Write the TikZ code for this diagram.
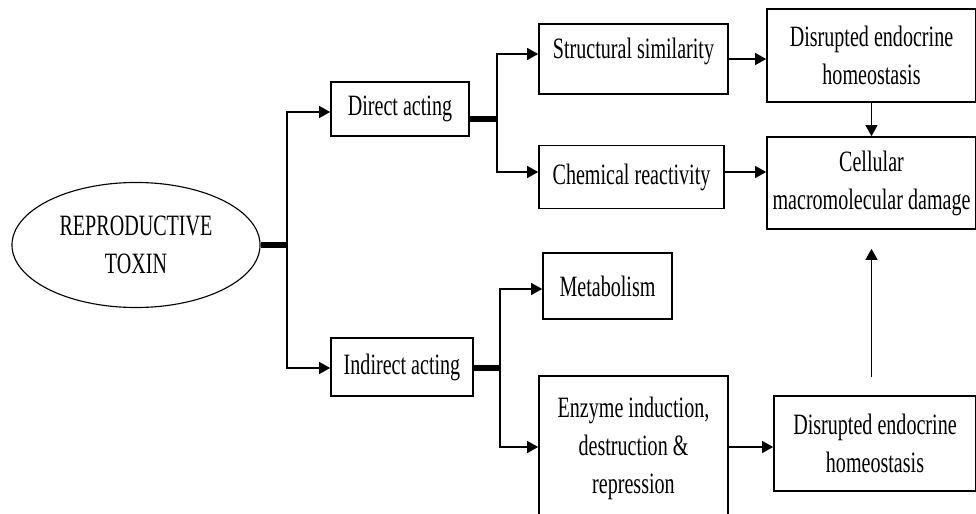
\documentclass[tikz,border=0pt]{standalone}
\usepackage{fontspec}
\setmainfont{Liberation Serif}[FakeStretch=0.68]
\usetikzlibrary{shapes.geometric,arrows.meta}

\begin{document}
\begin{tikzpicture}[x=0.025cm, y=-0.025cm,
        font=\fontsize{21}{27}\selectfont,
        box/.style={draw, line width=1.1pt, inner sep=0pt, align=center},
        arr/.style={line width=1.2pt, -{Triangle[length=0.28cm,width=0.3cm]}},
        bar/.style={line width=3.8pt}]

        \useasboundingbox (0,0) rectangle (976,514);

        \node[draw, ellipse, line width=0.8pt, align=center,
              minimum width=6.2cm, minimum height=3.125cm] (toxin) at (136,245) {REPRODUCTIVE\\TOXIN};

        \node[box, minimum width=3.45cm, minimum height=1.35cm] (direct) at (400,109) {Direct acting};
        \node[box, minimum width=3.55cm, minimum height=1.45cm] (indirect) at (402,367) {Indirect acting};

        \node[box, minimum width=4.725cm, minimum height=1.75cm] (struct) at (633.5,59) {};
        \node (structlbl) at (633.5,51) {Structural similarity};
        \node[box, minimum width=4.625cm, minimum height=1.575cm] (chem) at (631.5,177) {Chemical reactivity};
        \node[box, minimum width=3.225cm, minimum height=1.65cm] (metab) at (607.5,286) {Metabolism};
        \node[box, minimum width=4.725cm, minimum height=3.6cm] (enzyme) at (633.5,448) {Enzyme induction,\\destruction \&\\repression};

        \node[box, minimum width=5.225cm, minimum height=2.325cm] (topdis) at (871.5,55.5) {Disrupted endocrine\\homeostasis};
        \node[box, minimum width=5.225cm, minimum height=2.3cm] (cell) at (871.5,183) {Cellular\\macromolecular damage};
        \node[box, minimum width=5.05cm, minimum height=2.375cm] (botdis) at (875,443.5) {Disrupted endocrine\\homeostasis};

        % first fork
        \coordinate (ja) at (287,245);
        \coordinate (jdir) at (287,112);
        \coordinate (jind) at (287,368);
        \draw[bar] (toxin.east) -- (ja);
        \draw[arr] (ja) -- (jdir) -- (jdir -| direct.west);
        \draw[arr] (ja) -- (jind) -- (jind -| indirect.west);

        % direct acting fork
        \coordinate (jb) at (497,119);
        \coordinate (jstr) at (497,54);
        \coordinate (jchem) at (497,172);
        \draw[bar] (direct.east |- jb) -- (jb);
        \draw[arr] (jb) -- (jstr) -- (jstr -| struct.west);
        \draw[arr] (jb) -- (jchem) -- (jchem -| chem.west);

        % indirect acting fork
        \coordinate (jc) at (500,368);
        \coordinate (jmet) at (500,289);
        \coordinate (jenz) at (500,447);
        \draw[bar] (indirect.east |- jc) -- (jc);
        \draw[arr] (jc) -- (jmet) -- (jmet -| metab.west);
        \draw[arr] (jc) -- (jenz) -- (jenz -| enzyme.west);

        \draw[arr] (struct.east) -- (struct.east -| topdis.west);
        \draw[arr] (chem.east |- jchem) -- (jchem -| cell.west);
        \draw[arr] (topdis) -- (cell);
        \draw[arr] (enzyme.east |- jenz) -- (jenz -| botdis.west);
        \draw[arr, shorten <=0.45cm, shorten >=0.475cm] (botdis.north -| cell.south) -- (cell.south);

\end{tikzpicture}
\end{document}
